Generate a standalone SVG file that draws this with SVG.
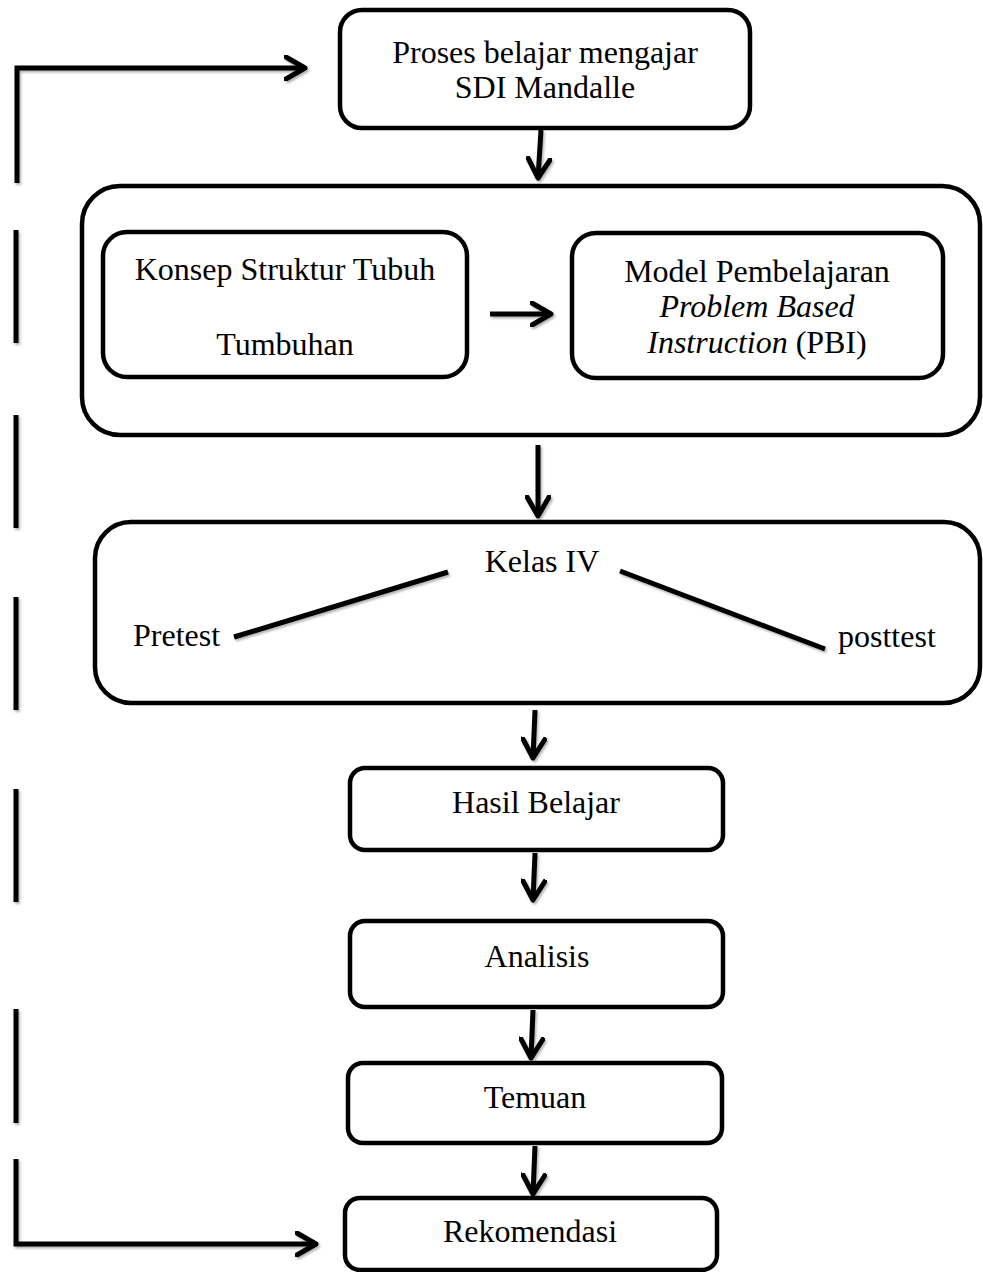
<svg xmlns="http://www.w3.org/2000/svg" width="983" height="1272" viewBox="0 0 983 1272">
<style>
  .box { fill: #fff; stroke: #000; stroke-width: 4.5; }
  .t { font-family: "Liberation Serif", "Times New Roman", serif; font-size: 32px; fill: #000; text-anchor: middle; }
  .ts { font-family: "Liberation Serif", "Times New Roman", serif; font-size: 32px; fill: #000; }
  .ln { stroke: #000; stroke-width: 5; fill: none; }
  .ar { stroke: #000; stroke-width: 5; fill: none; marker-end: url(#head); }
</style>
<defs>
  <marker id="head" viewBox="0 0 24 26" refX="21" refY="13" markerWidth="24" markerHeight="26" markerUnits="userSpaceOnUse" orient="auto">
    <path d="M2,2 L21,13 L2,24" fill="none" stroke="#000" stroke-width="5" stroke-linejoin="round" stroke-linecap="round"/>
  </marker>
  <filter id="sh" x="-20%" y="-20%" width="140%" height="140%">
    <feDropShadow dx="1.5" dy="2" stdDeviation="1.2" flood-color="#000" flood-opacity="0.3"/>
  </filter>
</defs>

<g id="node-proses">
  <rect class="box" x="340" y="10" width="410" height="118" rx="22"/>
  <text class="t" x="545" y="63">Proses belajar mengajar</text>
  <text class="t" x="545" y="98">SDI Mandalle</text>
</g>

<g id="node-container">
  <rect class="box" x="82" y="186" width="898" height="249" rx="38"/>
</g>

<g id="node-konsep">
  <rect class="box" x="103" y="232" width="364" height="145" rx="24"/>
  <text class="t" x="285" y="280">Konsep Struktur Tubuh</text>
  <text class="t" x="285" y="355">Tumbuhan</text>
</g>

<g id="node-model">
  <rect class="box" x="572" y="233" width="371" height="145" rx="24"/>
  <text class="t" x="757" y="282">Model Pembelajaran</text>
  <text class="t" x="757" y="317" font-style="italic">Problem Based</text>
  <text class="t" x="757" y="353"><tspan font-style="italic">Instruction</tspan> (PBI)</text>
</g>

<g id="node-kelas">
  <rect class="box" x="95" y="522" width="885" height="181" rx="36"/>
  <text class="t" x="542" y="572">Kelas IV</text>
  <text class="ts" x="133" y="646">Pretest</text>
  <text class="ts" x="838" y="647">posttest</text>
</g>

<g id="node-hasil">
  <rect class="box" x="350" y="768" width="373" height="82" rx="15"/>
  <text class="t" x="536" y="813">Hasil Belajar</text>
</g>

<g id="node-analisis">
  <rect class="box" x="350" y="921" width="373" height="86" rx="15"/>
  <text class="t" x="537" y="967">Analisis</text>
</g>

<g id="node-temuan">
  <rect class="box" x="348" y="1063" width="374" height="80" rx="15"/>
  <text class="t" x="535" y="1108">Temuan</text>
</g>

<g id="node-rekomendasi">
  <rect class="box" x="345" y="1198" width="372" height="72" rx="15"/>
  <text class="t" x="530" y="1242">Rekomendasi</text>
</g>

<g id="connectors" filter="url(#sh)">
  <!-- feedback loop (dashed) -->
  <polyline class="ar" points="17,183 17,68 305,68"/>
  <line class="ln" x1="16" y1="230" x2="16" y2="343"/>
  <line class="ln" x1="16" y1="415" x2="16" y2="528"/>
  <line class="ln" x1="16" y1="597" x2="16" y2="710"/>
  <line class="ln" x1="16" y1="789" x2="16" y2="902"/>
  <line class="ln" x1="16" y1="1009" x2="16" y2="1123"/>
  <polyline class="ar" points="16,1159 16,1244 316,1244"/>
  <!-- main flow -->
  <line class="ar" x1="541" y1="130" x2="538" y2="178"/>
  <line class="ar" x1="490" y1="314" x2="551" y2="314"/>
  <line class="ar" x1="538" y1="445" x2="538" y2="516"/>
  <line class="ar" x1="535" y1="710" x2="533" y2="758"/>
  <line class="ar" x1="535" y1="853" x2="533" y2="900"/>
  <line class="ar" x1="533" y1="1010" x2="531" y2="1058"/>
  <line class="ar" x1="535" y1="1146" x2="533" y2="1194"/>
  <!-- Kelas IV lines -->
  <line class="ln" x1="234" y1="637" x2="448" y2="572"/>
  <line class="ln" x1="620" y1="571" x2="825" y2="649"/>
</g>
</svg>
